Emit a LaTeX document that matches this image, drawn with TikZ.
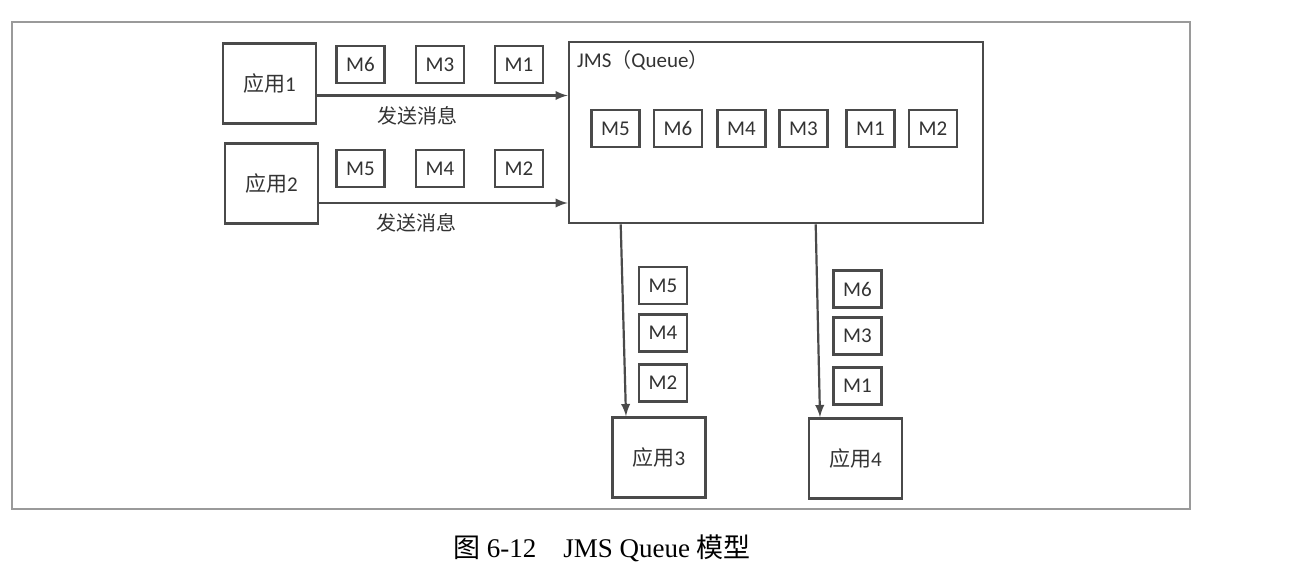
\documentclass[tikz,border=0pt]{standalone}
\usepackage{fontspec}
\setmainfont{Carlito}
\newfontfamily\cjk{Noto Sans CJK SC}
\newfontfamily\capfont{Liberation Serif}
\definecolor{linegray}{HTML}{4A4A4A}
\definecolor{textgray}{HTML}{333333}
\definecolor{framegray}{HTML}{9A9A9A}
\begin{document}
\begin{tikzpicture}[x=0.5pt,y=-0.5pt,
    app/.style={draw=linegray,line width=1.3pt,inner sep=0pt,minimum width=46.5pt,minimum height=40pt,
        text=textgray,font=\fontsize{10.5}{12}\selectfont},
    msg/.style={draw=linegray,line width=1.1pt,inner sep=0pt,minimum width=24pt,minimum height=18.5pt,
        text=textgray,font=\fontsize{10.5}{12}\selectfont},
    flow/.style={draw=linegray,line width=1.1pt,-latex},
    lbl/.style={text=textgray,font=\cjk\fontsize{10}{12}\selectfont}]
        \useasboundingbox (0,0) rectangle (1305,575);
        %% frame
        \draw[framegray,line width=0.7pt] (12,22) rectangle (1190,509);
        %% senders
        \node[app] (app1) at (269.5,83.5) {{\cjk 应用}1};
        \node[app] (app2) at (271.5,183.5) {{\cjk 应用}2};
        %% queue
        \node[draw=linegray,line width=1.3pt,minimum width=207pt,minimum height=90.5pt] (jms) at (776,132.5) {};
        \node[anchor=west,inner sep=0pt,text=textgray,font=\fontsize{10.5}{12}\selectfont] (jmstitle)
            at ([xshift=4.5pt,yshift=-10pt]jms.north west) {JMS{\cjk\fontsize{10}{12}\selectfont （}Queue{\cjk\fontsize{10}{12}\selectfont ）}};
        %% receivers
        \node[app] (app3) at (659,457.5) {{\cjk 应用}3};
        \node[app] (app4) at (855.5,458.5) {{\cjk 应用}4};
        %% messages sent
        \node[msg] (s1m6) at (360.5,64.5) {M6};
        \node[msg] (s1m3) at (440,64.5) {M3};
        \node[msg] (s1m1) at (519,64.5) {M1};
        \node[msg] (s2m5) at (360.5,168.5) {M5};
        \node[msg] (s2m4) at (440,168.5) {M4};
        \node[msg] (s2m2) at (519,168.5) {M2};
        %% messages in queue
        \node[msg] (qm5) at (615.5,128.5) {M5};
        \node[msg] (qm6) at (678,128.5) {M6};
        \node[msg] (qm4) at (741.5,128.5) {M4};
        \node[msg] (qm3) at (803.5,128.5) {M3};
        \node[msg] (qm1) at (870.5,128.5) {M1};
        \node[msg] (qm2) at (933,128.5) {M2};
        %% messages received
        \node[msg] (r3m5) at (663,285.5) {M5};
        \node[msg] (r3m4) at (663,333) {M4};
        \node[msg] (r3m2) at (663,383) {M2};
        \node[msg] (r4m6) at (857.5,289) {M6};
        \node[msg] (r4m3) at (857.5,336) {M3};
        \node[msg] (r4m1) at (857.5,386) {M1};
        %% connectors
        \coordinate (out1) at ([yshift=-6pt]app1.east);
        \coordinate (out2) at ([yshift=-9.75pt]app2.east);
        \draw[flow] (out1) -- (out1 -| jms.west) node[lbl,pos=0.4,below=1.5pt] (send1) {发送消息};
        \draw[flow] (out2) -- (out2 -| jms.west) node[lbl,pos=0.39,below=1.5pt] (send2) {发送消息};
        \draw[flow] ([xshift=26.5pt]jms.south west) -- ([xshift=-16.5pt]app3.north);
        \draw[flow] ([xshift=124pt]jms.south west) -- ([xshift=-17.75pt]app4.north);
        %% caption
        \node[text=black,font=\capfont\fontsize{13.5}{15}\selectfont] (caption) at (602,548)
            {{\cjk 图} 6-12\hspace{1em}JMS Queue {\cjk 模型}};
    \end{tikzpicture}
\end{document}
